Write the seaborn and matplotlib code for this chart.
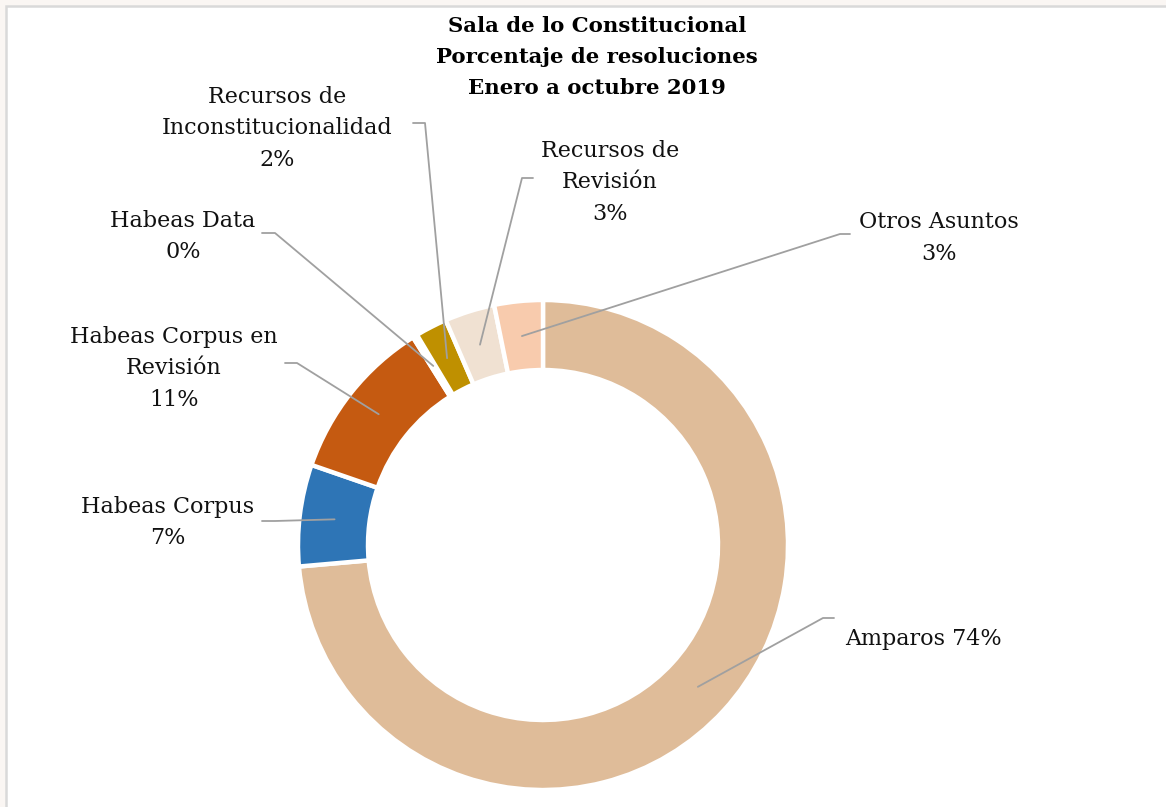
import numpy as np
import matplotlib.pyplot as plt
from matplotlib.patches import Rectangle
import seaborn as sns

# data (percent of resolutions)
categories = ["Amparos", "Habeas Corpus", "Habeas Corpus en Revisión", "Habeas Data",
              "Recursos de Inconstitucionalidad", "Recursos de Revisión", "Otros Asuntos"]
values = [73.6, 6.7, 10.8, 0.3, 2.1, 3.3, 3.2]
label_texts = ["Amparos 74%", "Habeas Corpus\n7%", "Habeas Corpus en\nRevisión\n11%",
               "Habeas Data\n0%", "Recursos de\nInconstitucionalidad\n2%",
               "Recursos de\nRevisión\n3%", "Otros Asuntos\n3%"]
colors = ["#DFBC99", "#2E75B6", "#C55A11", "#FFFFFF", "#BF9000", "#F0E1D2", "#F8CBAD"]
title_lines = ["Sala de lo Constitucional", "Porcentaje de resoluciones", "Enero a octubre 2019"]

sns.set_theme(style="white")
plt.rcParams['font.family'] = ['DejaVu Serif']

W, H = 1166, 807
fig = plt.figure(figsize=(W / 100, H / 100), dpi=100, facecolor="#FAF6F3")
ax = fig.add_axes([0, 0, 1, 1])


def py(y):
    # pixel row -> data y
    return H - y


# white chart area with gray frame
ax.add_patch(Rectangle((6, -20), W + 20, py(6) + 20, facecolor="white",
                       edgecolor="#D9D9D9", linewidth=1.8, zorder=0))

cx, cy, R, ring = 543, py(545), 245, 70
ax.pie(values, colors=colors, startangle=90, counterclock=False,
       center=(cx, cy), radius=R,
       wedgeprops=dict(width=ring, edgecolor="white", linewidth=3.2))
ax.set_xlim(0, W)
ax.set_ylim(0, H)
ax.axis("off")

# label layout: (x center, first baseline row, leader start, leader elbow)
layout = [
    (923, 645, (834, 618), (823, 618)),
    (168, 513, (262, 521), (275, 521)),
    (174, 343, (285, 363), (297, 363)),
    (183, 227, (262, 233), (275, 233)),
    (277, 103, (413, 123), (425, 123)),
    (610, 157, (533, 178), (522, 178)),
    (939, 228, (850, 234), (840, 234)),
]

fracs = np.array(values) / np.sum(values)
starts = np.concatenate([[0], np.cumsum(fracs)[:-1]])
r_mid = R - ring / 2
line_gap = 31.5
for i, (txt, (lx, ly, p0, p1)) in enumerate(zip(label_texts, layout)):
    ang = np.deg2rad(90 - 360 * (starts[i] + fracs[i] / 2))
    axp, ayp = cx + r_mid * np.cos(ang), cy + r_mid * np.sin(ang)
    ax.plot([p0[0], p1[0], axp], [py(p0[1]), py(p1[1]), ayp],
            color="#A0A0A0", linewidth=1.3, zorder=5)
    for j, line in enumerate(txt.split("\n")):
        ax.text(lx, py(ly + j * line_gap), line, ha="center", va="baseline",
                fontsize=16, color="#111111")

for j, line in enumerate(title_lines):
    ax.text(597, py(32 + j * 31), line, ha="center", va="baseline",
            fontsize=15.3, fontweight="bold", color="black")

fig.savefig("out.png", dpi=100, facecolor=fig.get_facecolor())
